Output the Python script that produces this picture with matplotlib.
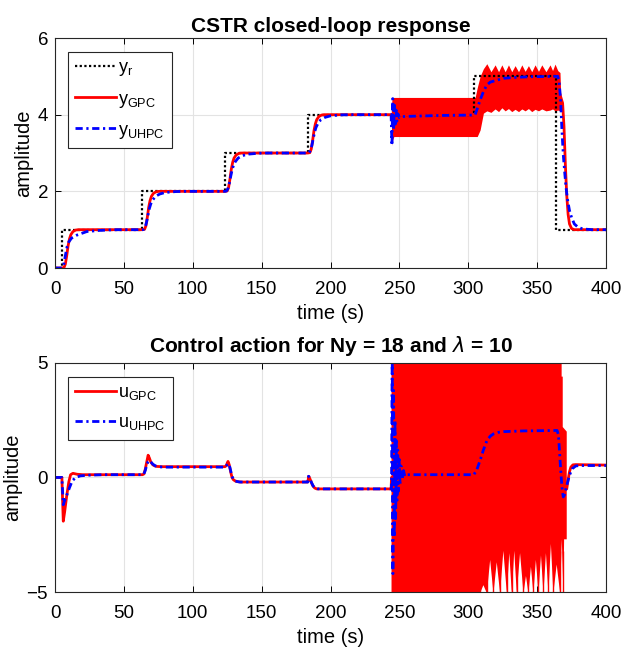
import numpy as np
import matplotlib
matplotlib.use("Agg")
import matplotlib.pyplot as plt

plt.rcParams['font.family'] = ['Liberation Sans', 'DejaVu Sans']
plt.rcParams['mathtext.fontset'] = 'dejavusans'

# ---- top: outputs ----
t_ref = [0, 5, 63.5, 123.5, 183.5, 304, 364, 400]
y_ref = [0, 1, 2, 3, 4, 5, 1, 1]

t_gpc = [0, 5, 6.5, 7.5, 8.5, 9.5, 10.5, 11.5, 13, 15, 17,
         63.5, 65, 66, 67, 68, 69, 70, 71.5, 73.5, 75.5,
         123.5, 125, 126, 127, 128, 129, 130, 131.5, 133.5, 135.5,
         183.5, 185, 186, 187, 188, 189, 190, 191.5, 193.5, 195.5,
         244, 305, 311, 366, 368.5, 369.5, 370.5, 371.5, 372.5, 373.5, 375, 377, 400]
y_gpc = [0, 0, 0.01, 0.1, 0.32, 0.58, 0.76, 0.87, 0.95, 0.99, 1.0,
         1.0, 1.01, 1.1, 1.32, 1.58, 1.76, 1.87, 1.95, 1.99, 2.0,
         2.0, 2.01, 2.1, 2.32, 2.58, 2.76, 2.87, 2.95, 2.99, 3.0,
         3.0, 3.01, 3.1, 3.32, 3.58, 3.76, 3.87, 3.95, 3.99, 4.0,
         4.0, 4.0, 4.6, 4.6, 4.3, 3.7, 2.7, 1.9, 1.4, 1.15, 1.03, 1.0, 1.0]

t_uhpc = [0, 5, 6, 7, 8, 8.8, 10, 12, 16, 23, 32, 45,
          63.5, 64.5, 65.5, 66.5, 67.5, 68.5, 69.5, 71, 73, 76, 80, 88, 95,
          123.5, 124.5, 125.5, 126.5, 127.5, 128.5, 129.5, 131, 133, 136, 140, 148, 155,
          183.5, 184.5, 185.5, 186.5, 187.5, 188.5, 189.5, 191, 193, 196, 200, 208, 215,
          243.5, 244, 244.6, 245.2, 245.8, 246.4, 247, 247.6, 248.2, 249, 250, 252, 260, 280, 304,
          305, 306.5, 308.6, 311, 313.4, 316, 320.7, 326, 332.8, 345, 365,
          366, 367, 368, 369, 370, 371, 372, 373.5, 375, 377, 379.5, 383, 390, 400]
y_uhpc = [0, 0, 0.03, 0.22, 0.42, 0.56, 0.68, 0.78, 0.86, 0.95, 0.98, 1.0,
          1.0, 1.01, 1.07, 1.2, 1.38, 1.55, 1.67, 1.78, 1.87, 1.93, 1.97, 1.995, 2.0,
          2.0, 2.01, 2.07, 2.2, 2.38, 2.55, 2.67, 2.78, 2.87, 2.93, 2.97, 2.995, 3.0,
          3.0, 3.01, 3.07, 3.2, 3.38, 3.55, 3.67, 3.78, 3.87, 3.93, 3.97, 3.995, 4.0,
          4.0, 4.0, 3.2, 4.42, 3.6, 4.25, 3.75, 4.12, 3.83, 4.02, 3.92, 3.95, 3.96, 3.98, 3.99,
          4.0, 4.15, 4.38, 4.6, 4.77, 4.85, 4.9, 4.95, 4.97, 4.99, 5.0,
          4.85, 4.4, 3.6, 2.95, 2.5, 2.1, 1.8, 1.5, 1.32, 1.15, 1.07, 1.02, 1.0, 1.0]

# oscillating band of y_GPC (envelope)
t_band_top = [244.0, 244.6, 245.2, 246.0, 305.0, 306.5, 308.6, 311.0, 313.5, 316.5, 319.5,
              322.0, 324.4, 326.8, 329.2, 331.6, 334.0, 336.5, 338.9, 341.3, 343.7, 346.1,
              348.5, 351.0, 353.4, 356.4, 359.4, 361.2, 363.0, 365.0, 366.6, 367.2, 368.5]
hi_top = [4.0, 4.4, 4.45, 4.45, 4.45, 4.7, 5.0, 5.2, 5.33, 5.12, 5.3, 5.12, 5.3, 5.12, 5.3, 5.12,
          5.28, 5.12, 5.3, 5.13, 5.28, 5.12, 5.3, 5.13, 5.3, 5.12, 5.3, 5.15, 5.32, 5.15, 5.1, 4.45, 4.35]
lo_top = [4.0, 3.2, 3.35, 3.43, 3.43, 3.43, 3.6, 4.04, 4.1, 4.06, 4.15, 4.08, 4.18, 4.1, 4.16, 4.08,
          4.14, 4.08, 4.15, 4.1, 4.16, 4.08, 4.14, 4.1, 4.15, 4.1, 4.12, 4.15, 4.1, 4.12, 4.1, 4.1, 4.1]

# ---- bottom: control actions ----
t_ugpc = [0, 5, 5.5, 6, 7, 8.5, 10, 11.3, 13, 16, 20,
          63.5, 64.5, 65.5, 66.5, 67.6, 68.5, 69.5, 71, 72.5, 74, 78,
          123.5, 124.3, 125, 125.6, 126.5, 127.5, 128.5, 129.5, 131, 132, 135,
          183.5, 184.2, 185, 186, 187, 188.5, 190,
          244, 244.3, 367, 371.5, 372.5, 373.5, 374.5, 376, 378, 400]
u_gpc = [0, 0, -1.0, -1.91, -1.5, -0.8, -0.2, 0.12, 0.18, 0.14, 0.12,
         0.12, 0.15, 0.35, 0.65, 0.97, 0.85, 0.68, 0.55, 0.5, 0.48, 0.47,
         0.47, 0.52, 0.62, 0.7, 0.55, 0.25, 0.0, -0.1, -0.16, -0.18, -0.2,
         -0.2, 0.05, -0.05, -0.2, -0.35, -0.46, -0.5,
         -0.5, 0.0, 0.0, -0.5, -0.1, 0.25, 0.45, 0.55, 0.56, 0.54]

t_uuhpc = [0, 5, 5.5, 6, 7, 8, 9, 10.5, 12.5, 15, 18.5, 25, 35,
           63.5, 64.5, 65.5, 66.5, 67.5, 68.5, 69.5, 71, 73, 76, 80,
           123.5, 124.5, 125.5, 126.5, 127.5, 128.5, 129.5, 131, 134,
           183.5, 184, 185, 186, 187.5, 189, 191,
           243.5, 244.3, 244.8, 245.3, 245.8, 246.3, 246.8, 247.3, 247.8, 248.3, 248.8, 249.3, 249.8,
           250.5, 251.2, 252, 253, 254, 255.5, 304,
           306, 308.6, 311, 313.5, 316, 318.3, 322, 326, 340, 364.5,
           365.5, 366.2, 366.8, 367.5, 368.2, 369, 370, 371.5, 373.5, 375.5, 378, 381, 400]
u_uhpc = [0, 0, -0.6, -1.19, -1.0, -0.85, -0.7, -0.45, -0.15, 0.0, 0.07, 0.1, 0.12,
          0.12, 0.15, 0.3, 0.52, 0.68, 0.74, 0.68, 0.58, 0.5, 0.46, 0.45,
          0.45, 0.52, 0.6, 0.55, 0.3, 0.05, -0.08, -0.16, -0.2,
          -0.2, 0.05, 0.0, -0.2, -0.38, -0.47, -0.5,
          -0.5, -0.5, 5.5, -4.2, 3.8, -2.6, 2.5, -1.8, 1.6, -1.0, 1.2, -0.6, 0.8,
          -0.3, 0.5, -0.1, 0.3, 0.05, 0.12, 0.12,
          0.3, 0.74, 1.2, 1.6, 1.8, 1.9, 1.97, 2.0, 2.03, 2.05,
          1.85, 1.2, 0.6, 0.0, -0.55, -0.85, -0.75, -0.35, 0.1, 0.38, 0.5, 0.52, 0.52]

# saturated oscillation of u_GPC (outline)
t_up_bot = [244.3, 367.8, 367.8, 368.6, 368.6, 371.5]
u_up_bot = [6.0, 6.0, 4.4, 4.4, 2.2, 2.0]
t_lo_bot = [244.3, 307.0, 308.6, 311.0, 313.5, 315.9, 318.3, 320.7, 323.1, 325.5, 328.0,
            329.8, 331.6, 333.4, 335.2, 337.6, 340.1, 341.9, 343.7, 345.5, 347.3, 349.1,
            351.0, 352.8, 354.6, 356.4, 358.2, 360.0, 361.8, 364.2, 366.7, 367.9, 369.1,
            369.6, 371.5]
u_lo_bot = [-5.5, -5.5, -5.05, -4.7, -5.05, -3.6, -5.05, -3.7, -5.05, -3.2, -5.05,
            -3.3, -5.05, -3.2, -5.05, -3.3, -5.05, -4.3, -5.05, -3.9, -5.05, -3.6,
            -5.05, -3.4, -5.05, -3.3, -5.05, -2.9, -5.05, -3.8, -5.05, -2.7, -5.05,
            -2.7, -2.7]
spike_t = [308.6, 313.5, 318.3, 323.1, 328.0, 331.6, 335.2, 340.1, 343.7, 347.3,
           351.0, 354.6, 358.2, 361.8, 366.7, 369.1]

dashdot = (0, (2.6, 1.3, 0.8, 1.3))
dotted = (0, (1, 1.1))

fig = plt.figure(figsize=(6.23, 6.51), dpi=100)
ax1 = fig.add_axes([0.0883, 0.5883, 0.8844, 0.3533])
ax2 = fig.add_axes([0.0883, 0.0906, 0.8844, 0.352])

ax1.plot(t_ref, y_ref, color='k', lw=1.6, ls=dotted, drawstyle='steps-post', label='y$_\\mathregular{r}$')
ax1.plot(t_gpc, y_gpc, color='r', lw=2.0, label='y$_\\mathregular{GPC}$')
ax1.fill_between(t_band_top, lo_top, hi_top, color='r', lw=0)
ax1.plot(t_uhpc, y_uhpc, color='b', lw=2.0, ls=dashdot, label='y$_\\mathregular{UHPC}$')
ax1.set_ylim(0, 6)
ax1.set_yticks([0, 2, 4, 6])
ax1.set_title('CSTR closed-loop response', fontsize=15, fontweight='bold', pad=4)

ax2.fill(list(t_up_bot) + t_lo_bot[::-1], list(u_up_bot) + u_lo_bot[::-1], color='r', lw=0)
ax2.vlines(spike_t, -5.5, -3.2, color='r', lw=1.0)
ax2.plot(t_ugpc, u_gpc, color='r', lw=2.0, label='u$_\\mathregular{GPC}$')
ax2.plot(t_uuhpc, u_uhpc, color='b', lw=2.0, ls=dashdot, label='u$_\\mathregular{UHPC}$')
ax2.set_ylim(-5, 5)
ax2.set_yticks([-5, 0, 5])
ax2.set_title('Control action for Ny = 18 and $\\lambda$ = 10', fontsize=15, fontweight='bold', pad=8)

for ax in (ax1, ax2):
    ax.set_xlim(0, 400)
    ax.set_xticks(range(0, 401, 50))
    ax.grid(True, color='#e3e3e3', lw=0.8)
    ax.set_axisbelow(True)
    ax.tick_params(direction='in', top=True, right=True, labelsize=13.5, length=4, width=0.7)
    ax.tick_params(axis='x', pad=9)
    ax.tick_params(axis='y', pad=5)
    for s in ax.spines.values():
        s.set_linewidth(0.8)
        s.set_color('#262626')
    ax.set_xlabel('time (s)', fontsize=14.5, labelpad=5)
    ax.set_ylabel('amplitude', fontsize=14.5, labelpad=3)
    leg = ax.legend(loc='upper left', bbox_to_anchor=(12.5 / 551, 1 - 14 / 230), borderaxespad=0,
                    fontsize=13, handlelength=2.3, fancybox=False, framealpha=1,
                    edgecolor='#262626', labelspacing=0.68, borderpad=0.4, handletextpad=0.1)
    leg.get_frame().set_linewidth(0.8)

fig.savefig('out.png', dpi=100)
